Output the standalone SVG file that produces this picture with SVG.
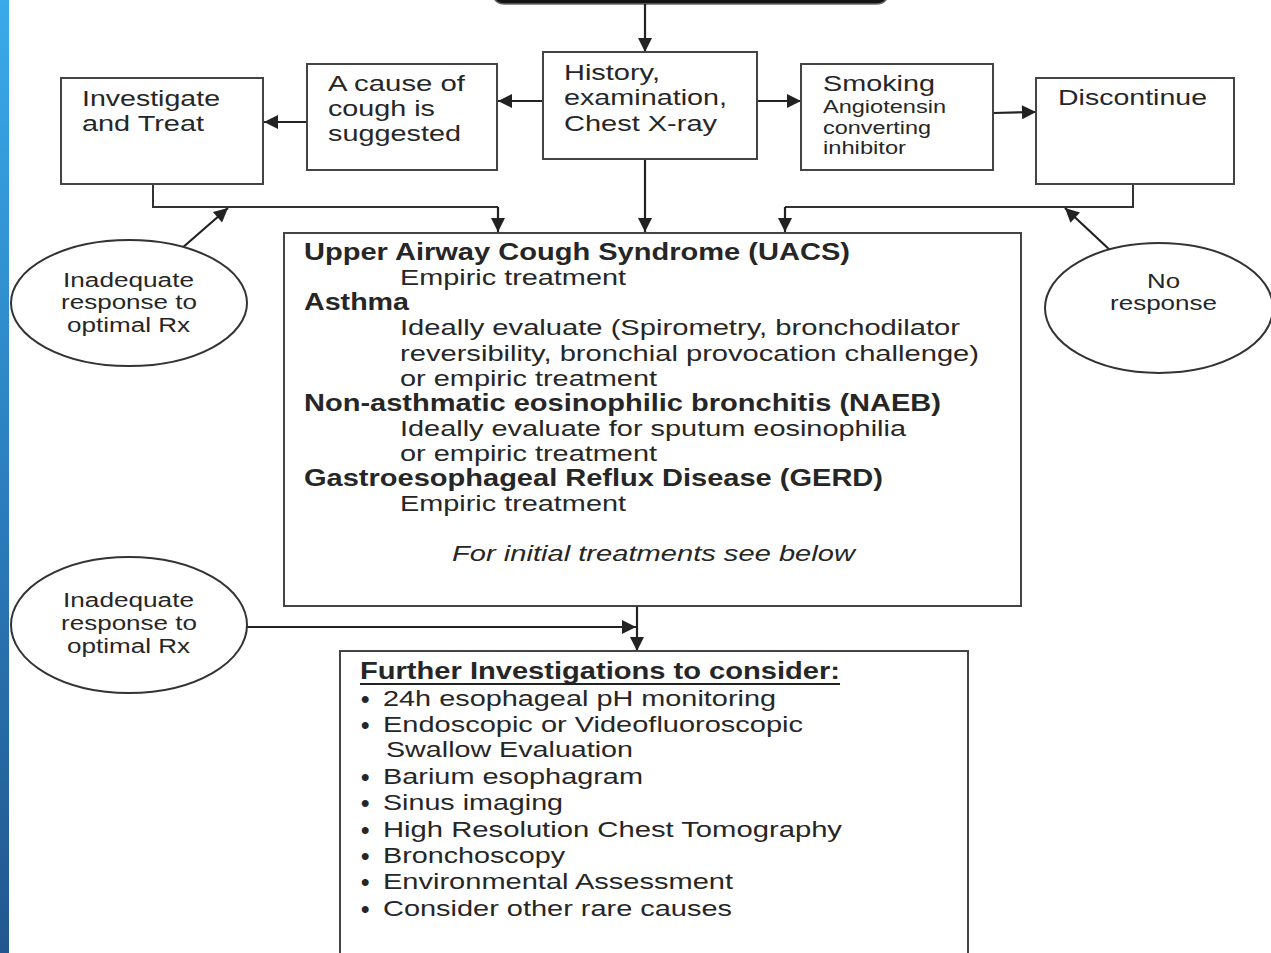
<svg xmlns="http://www.w3.org/2000/svg" width="1271" height="953" viewBox="0 0 1271 953">
<defs>
<linearGradient id="bar" x1="0" y1="0" x2="0" y2="1">
<stop offset="0" stop-color="#3aaaea"/>
<stop offset="0.5" stop-color="#2b7fbf"/>
<stop offset="1" stop-color="#22568e"/>
</linearGradient>
<marker id="ah" viewBox="0 0 10 10" refX="10" refY="5" markerWidth="16" markerHeight="14" markerUnits="userSpaceOnUse" orient="auto">
<path d="M0,0 L10,5 L0,10 z" fill="#222"/>
</marker>
<style>
.box{fill:#fff;stroke:#444;stroke-width:2}
.ell{fill:#fff;stroke:#333;stroke-width:2}
.ln{fill:none;stroke:#333;stroke-width:2}
.ar{fill:none;stroke:#222;stroke-width:2.2;marker-end:url(#ah)}
text{font-family:"Liberation Sans",Arial,sans-serif;fill:#262626}
.t{font-size:22px}
.s{font-size:18px}
.e{font-size:20px}
.b{font-size:23px;font-weight:bold}
.m{font-size:22px}
.i{font-size:22px;font-style:italic}
.bu{font-size:24px;font-weight:bold}
</style>
</defs>
<rect x="0" y="0" width="1271" height="953" fill="#fff"/>
<rect x="0" y="0" width="9" height="953" fill="url(#bar)"/>

<g id="top">
<path d="M493,-20 L888,-20 L888,-8 Q888,4 876,4 L505,4 Q493,4 493,-8 Z" fill="#141414" stroke="#666" stroke-width="1.5"/>
</g>

<g id="connectors">
<line class="ar" x1="645" y1="4" x2="645" y2="52"/>
<line class="ar" x1="543" y1="101" x2="498" y2="101"/>
<line class="ar" x1="307" y1="122" x2="264" y2="122"/>
<line class="ar" x1="757" y1="101" x2="801" y2="101"/>
<line class="ar" x1="993" y1="113" x2="1036" y2="112"/>
<polyline class="ln" points="153,184 153,207 498,207"/>
<line class="ar" x1="498" y1="207" x2="498" y2="232"/>
<line class="ar" x1="645" y1="159" x2="645" y2="232"/>
<polyline class="ln" points="1133,184 1133,207 785,207"/>
<line class="ar" x1="785" y1="207" x2="785" y2="232"/>
<line class="ar" x1="181" y1="249" x2="228" y2="208"/>
<line class="ar" x1="1111" y1="251" x2="1065" y2="208"/>
<line class="ar" x1="247" y1="627" x2="636" y2="627"/>
<line class="ar" x1="637" y1="606" x2="637" y2="651"/>
</g>

<g id="investigate">
<rect class="box" x="61" y="78" width="202" height="106"/>
<text class="t" x="82" y="106" textLength="138" lengthAdjust="spacingAndGlyphs">Investigate</text>
<text class="t" x="82" y="131" textLength="122" lengthAdjust="spacingAndGlyphs">and Treat</text>
</g>

<g id="cause">
<rect class="box" x="307" y="64" width="190" height="106"/>
<text class="t" x="328" y="91" textLength="137" lengthAdjust="spacingAndGlyphs">A cause of</text>
<text class="t" x="328" y="116" textLength="107" lengthAdjust="spacingAndGlyphs">cough is</text>
<text class="t" x="328" y="141" textLength="133" lengthAdjust="spacingAndGlyphs">suggested</text>
</g>

<g id="history">
<rect class="box" x="543" y="52" width="214" height="107"/>
<text class="t" x="564" y="80" textLength="96" lengthAdjust="spacingAndGlyphs">History,</text>
<text class="t" x="564" y="105" textLength="163" lengthAdjust="spacingAndGlyphs">examination,</text>
<text class="t" x="564" y="131" textLength="153" lengthAdjust="spacingAndGlyphs">Chest X-ray</text>
</g>

<g id="smoking">
<rect class="box" x="801" y="64" width="192" height="106"/>
<text class="t" x="823" y="91" textLength="112" lengthAdjust="spacingAndGlyphs">Smoking</text>
<text class="s" x="823" y="113" textLength="123" lengthAdjust="spacingAndGlyphs">Angiotensin</text>
<text class="s" x="823" y="134" textLength="108" lengthAdjust="spacingAndGlyphs">converting</text>
<text class="s" x="823" y="154" textLength="83" lengthAdjust="spacingAndGlyphs">inhibitor</text>
</g>

<g id="discontinue">
<rect class="box" x="1036" y="78" width="198" height="106"/>
<text class="t" x="1058" y="105" textLength="149" lengthAdjust="spacingAndGlyphs">Discontinue</text>
</g>

<g id="inadequate1">
<ellipse class="ell" cx="129" cy="303" rx="118" ry="63"/>
<text class="e" x="63" y="287" textLength="131" lengthAdjust="spacingAndGlyphs">Inadequate</text>
<text class="e" x="61" y="309" textLength="136" lengthAdjust="spacingAndGlyphs">response to</text>
<text class="e" x="67" y="332" textLength="123" lengthAdjust="spacingAndGlyphs">optimal Rx</text>
</g>

<g id="noresponse">
<ellipse class="ell" cx="1159" cy="308" rx="114" ry="65"/>
<text class="e" x="1147" y="288" textLength="33" lengthAdjust="spacingAndGlyphs">No</text>
<text class="e" x="1110" y="310" textLength="107" lengthAdjust="spacingAndGlyphs">response</text>
</g>

<g id="main">
<rect class="box" x="284" y="233" width="737" height="373"/>
<text class="b" x="304" y="260" textLength="546" lengthAdjust="spacingAndGlyphs">Upper Airway Cough Syndrome (UACS)</text>
<text class="m" x="400" y="285" textLength="226" lengthAdjust="spacingAndGlyphs">Empiric treatment</text>
<text class="b" x="304" y="310" textLength="105" lengthAdjust="spacingAndGlyphs">Asthma</text>
<text class="m" x="400" y="335" textLength="560" lengthAdjust="spacingAndGlyphs">Ideally evaluate (Spirometry, bronchodilator</text>
<text class="m" x="400" y="361" textLength="579" lengthAdjust="spacingAndGlyphs">reversibility, bronchial provocation challenge)</text>
<text class="m" x="400" y="386" textLength="257" lengthAdjust="spacingAndGlyphs">or empiric treatment</text>
<text class="b" x="304" y="411" textLength="637" lengthAdjust="spacingAndGlyphs">Non-asthmatic eosinophilic bronchitis (NAEB)</text>
<text class="m" x="400" y="436" textLength="506" lengthAdjust="spacingAndGlyphs">Ideally evaluate for sputum eosinophilia</text>
<text class="m" x="400" y="461" textLength="257" lengthAdjust="spacingAndGlyphs">or empiric treatment</text>
<text class="b" x="304" y="486" textLength="579" lengthAdjust="spacingAndGlyphs">Gastroesophageal Reflux Disease (GERD)</text>
<text class="m" x="400" y="511" textLength="226" lengthAdjust="spacingAndGlyphs">Empiric treatment</text>
<text class="i" x="452" y="561" textLength="403" lengthAdjust="spacingAndGlyphs">For initial treatments see below</text>
</g>

<g id="inadequate2">
<ellipse class="ell" cx="129" cy="625" rx="118" ry="68"/>
<text class="e" x="63" y="607" textLength="131" lengthAdjust="spacingAndGlyphs">Inadequate</text>
<text class="e" x="61" y="630" textLength="136" lengthAdjust="spacingAndGlyphs">response to</text>
<text class="e" x="67" y="653" textLength="123" lengthAdjust="spacingAndGlyphs">optimal Rx</text>
</g>

<g id="further">
<rect class="box" x="340" y="651" width="628" height="320"/>
<text class="b" x="360" y="679" textLength="480" lengthAdjust="spacingAndGlyphs">Further Investigations to consider:</text>
<line x1="360" y1="684" x2="840" y2="684" stroke="#222" stroke-width="2"/>
<g class="m">
<text class="bu" x="361" y="707">•</text><text x="383" y="706" textLength="393" lengthAdjust="spacingAndGlyphs">24h esophageal pH monitoring</text>
<text class="bu" x="361" y="733">•</text><text x="383" y="732" textLength="420" lengthAdjust="spacingAndGlyphs">Endoscopic or Videofluoroscopic</text>
<text x="386" y="757" textLength="247" lengthAdjust="spacingAndGlyphs">Swallow Evaluation</text>
<text class="bu" x="361" y="785">•</text><text x="383" y="784" textLength="260" lengthAdjust="spacingAndGlyphs">Barium esophagram</text>
<text class="bu" x="361" y="811">•</text><text x="383" y="810" textLength="180" lengthAdjust="spacingAndGlyphs">Sinus imaging</text>
<text class="bu" x="361" y="838">•</text><text x="383" y="837" textLength="459" lengthAdjust="spacingAndGlyphs">High Resolution Chest Tomography</text>
<text class="bu" x="361" y="864">•</text><text x="383" y="863" textLength="182" lengthAdjust="spacingAndGlyphs">Bronchoscopy</text>
<text class="bu" x="361" y="890">•</text><text x="383" y="889" textLength="350" lengthAdjust="spacingAndGlyphs">Environmental Assessment</text>
<text class="bu" x="361" y="917">•</text><text x="383" y="916" textLength="349" lengthAdjust="spacingAndGlyphs">Consider other rare causes</text>
</g>
</g>
</svg>
